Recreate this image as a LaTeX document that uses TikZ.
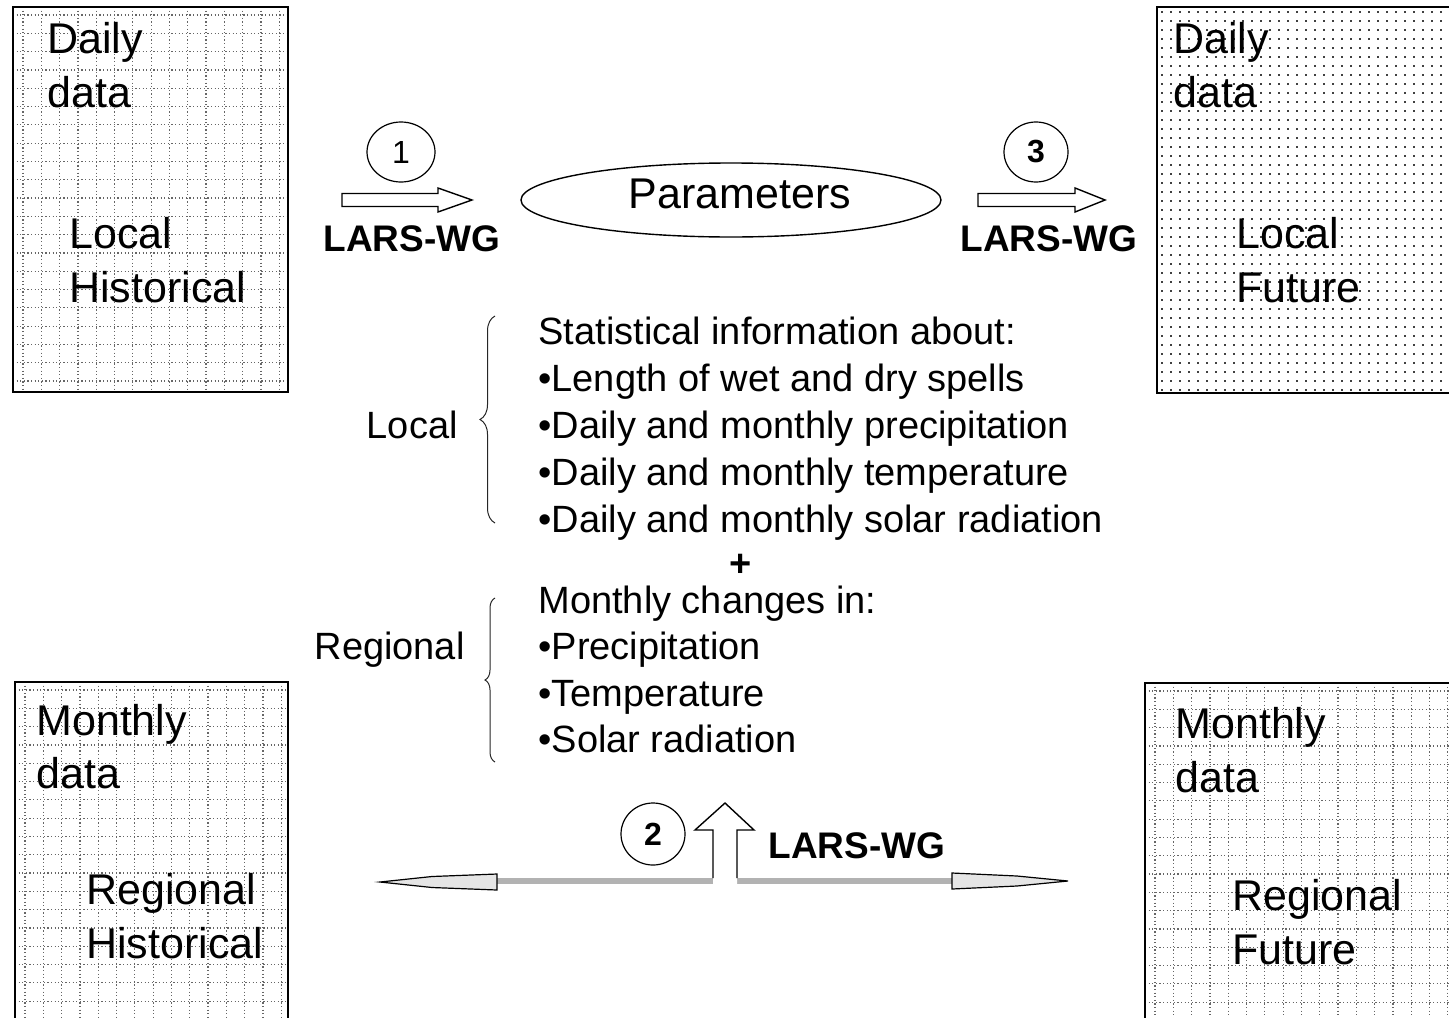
\documentclass[tikz,border=0pt]{standalone}
\usepackage{fontspec}
\setmainfont{Liberation Sans}
\usetikzlibrary{decorations.pathreplacing,shapes.geometric}

\tikzset{
  databox/.style={draw=black, line width=1.4pt},
  gridline/.style={black!60, line width=0.6pt, dash pattern=on 0.6pt off 1.2pt},
  dotline/.style={black!75, line width=1.2pt, dash pattern=on 1.2pt off 3.3pt},
  boxtext/.style={font=\fontsize{21.5}{26}\selectfont, inner sep=0pt, anchor=base west},
  info/.style={font=\fontsize{19}{23}\selectfont, inner sep=0pt, anchor=base west},
  wg/.style={font=\fontsize{18.5}{22}\selectfont\bfseries, inner sep=0pt, anchor=base},
  stepno/.style={draw, ellipse, inner sep=0pt, line width=0.6pt, font=\fontsize{16}{18}\selectfont},
  fatarrow/.style={draw=black, line width=0.7pt, fill=white},
  thinhead/.style={draw=black, line width=0.6pt, fill=gray!20},
  band/.style={gray!60, line width=3pt},
  curly/.style={decorate, decoration={brace, amplitude=#1}, line width=0.5pt, gray!30!black},
}

% box with a dotted grid, x1 y1 x2 y2
\newcommand{\gridfill}[4]{%
  \begin{scope}
    \clip (#1,#2) rectangle (#3,#4);
    \foreach \k in {0,...,22} {
      \draw[gridline] ({#1+10+18.3*\k},#2) -- ({#1+10+18.3*\k},#4);
      \draw[gridline] (#1,{#2+8+18.3*\k}) -- (#3,{#2+8+18.3*\k});
    }
  \end{scope}
  \draw[databox] (#1,#2) rectangle (#3,#4);
}
% box with a field of dots, x1 y1 x2 y2
\newcommand{\dotsfill}[4]{%
  \begin{scope}
    \clip (#1,#2) rectangle (#3,#4);
    \foreach \k in {0,...,44}
      \draw[dotline] ({#1+4},{#2+5+9*\k}) -- (#3,{#2+5+9*\k});
  \end{scope}
  \draw[databox] (#1,#2) rectangle (#3,#4);
}

\begin{document}
\begin{tikzpicture}[x=0.5pt, y=-0.5pt]
\useasboundingbox (0,0) rectangle (1449,1017);
\clip (0,0) rectangle (1449,1017);

% the four data boxes
\gridfill{13}{7}{288}{392}
\dotsfill{1157}{7}{1460}{393}
\gridfill{15}{682}{288}{1030}
\gridfill{1145}{683}{1460}{1030}

\node[boxtext] (lhday) at (47,53) {Daily};
\node[boxtext] (lhdata) at (47,107) {data};
\node[boxtext] (lhloc) at (69,248) {Local};
\node[boxtext] (lhhist) at (69,302) {Historical};

\node[boxtext] (lfday) at (1173,53) {Daily};
\node[boxtext] (lfdata) at (1173,107) {data};
\node[boxtext] (lfloc) at (1236,248) {Local};
\node[boxtext] (lffut) at (1236,302) {Future};

\node[boxtext] (rhmon) at (36,735) {Monthly};
\node[boxtext] (rhdata) at (36,788) {data};
\node[boxtext] (rhreg) at (86,904) {Regional};
\node[boxtext] (rhhist) at (86,958) {Historical};

\node[boxtext] (rfmon) at (1175,738) {Monthly};
\node[boxtext] (rfdata) at (1175,792) {data};
\node[boxtext] (rfreg) at (1232,910) {Regional};
\node[boxtext] (rffut) at (1232,964) {Future};

% step 1 and 3
\node[draw, ellipse, line width=0.7pt, minimum width=210pt, minimum height=37pt] (params) at (731,200) {};
\node[boxtext, anchor=base] (paramtxt) at (740,208) {Parameters};

\node[stepno, minimum width=34pt, minimum height=30pt] (step1) at (401,152) {1};
\coordinate (a1) at (342,200);
\draw[fatarrow] (a1) ++(0,-6.5) -- ++(96,0) -- ++(0,-5.5) -- ++(34,12) -- ++(-34,12)
      -- ++(0,-5.5) -- ++(-96,0) -- cycle;
\node[wg] (wg1) at (412,251) {LARS-WG};

\node[stepno, minimum width=32pt, minimum height=30pt, font=\fontsize{16}{18}\selectfont\bfseries] (step3) at (1036,152) {3};
\coordinate (a3) at (978,200);
\draw[fatarrow] (a3) ++(0,-6.5) -- ++(97,0) -- ++(0,-5.5) -- ++(30,12) -- ++(-30,12)
      -- ++(0,-5.5) -- ++(-97,0) -- cycle;
\node[wg] (wg3) at (1049,251) {LARS-WG};

% parameter lists
\foreach \txt [count=\i from 0] in {Statistical information about:, •Length of wet and dry spells,
    •Daily and monthly precipitation, •Daily and monthly temperature, •Daily and monthly solar radiation}
  \node[info] (stat\i) at (538,{344+47*\i}) {\txt};
\node[font=\fontsize{19}{23}\selectfont\bfseries, inner sep=0pt] (plus) at (741,565) {+};
\foreach \txt [count=\i from 0] in {Monthly changes in:, •Precipitation, •Temperature, •Solar radiation}
  \node[info] (chg\i) at (538,{613+46.5*\i}) {\txt};

\node[info, anchor=base east] (loclbl) at (458,438) {Local};
\draw[curly=7.5pt] (495,523) -- (495,316);
\node[info, anchor=base east] (reglbl) at (465,659) {Regional};
\draw[curly=5pt] (495,762) -- (495,598);

% step 2
\coordinate (lt) at (380,882);
\coordinate (rt) at (1068,881);
\draw[band] (497,881) -- (952,881);
\draw[thinhead] (497,874) -- (432,876.5) -- (lt) -- (432,887.5) -- (497,890) -- cycle;
\draw[thinhead] (952,873) -- (1017,876) -- (rt) -- (1017,886) -- (952,889) -- cycle;
\fill[white] (713,884) -- (713,830) -- (695,830) -- (725,803) -- (754,830) -- (737,830) -- (737,884) -- cycle;
\draw[line width=0.7pt] (713,878) -- (713,830) -- (695,830) -- (725,803) -- (754,830) -- (737,830) -- (737,878);
\node[stepno, minimum width=32pt, minimum height=31pt, font=\fontsize{16}{18}\selectfont\bfseries] (step2) at (653,834) {2};
\node[wg] (wg2) at (857,858) {LARS-WG};
\end{tikzpicture}
\end{document}
